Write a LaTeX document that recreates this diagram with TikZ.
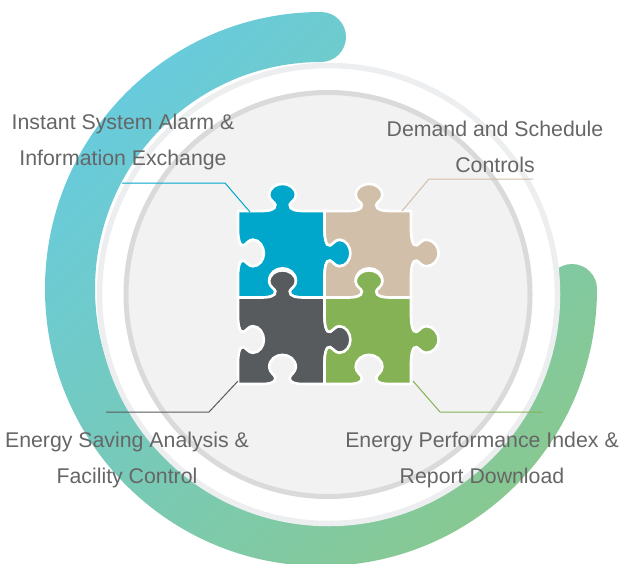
\documentclass[tikz,border=0pt]{standalone}
\usepackage{fontspec}
\setmainfont{Liberation Sans}
\definecolor{bandA}{HTML}{68CBDC}
\definecolor{bandB}{HTML}{74CBBE}
\definecolor{bandC}{HTML}{88C992}
\definecolor{ringout}{HTML}{ECEEF0}
\definecolor{ringin}{HTML}{DADADA}
\definecolor{disc}{HTML}{F2F2F2}
\definecolor{pblue}{HTML}{00A7CB}
\definecolor{ptan}{HTML}{D2BFAA}
\definecolor{pgray}{HTML}{575B5D}
\definecolor{pgreen}{HTML}{85B254}
\definecolor{txt}{HTML}{666666}
\newcommand{\puzzle}{%
 (0,0) -- (22,0)
 .. controls (30,0) and (37,-1) .. (36.5,-6)
 .. controls (36,-9) and (30.5,-10.5) .. (30.5,-15.5)
 .. controls (30.5,-22.5) and (37,-26.5) .. (43.5,-26.5)
 .. controls (50,-26.5) and (56.5,-22.5) .. (56.5,-15.5)
 .. controls (56.5,-10.5) and (51,-9) .. (50.5,-6)
 .. controls (50,-1) and (57,0) .. (65,0)
 -- (84.5,0) -- (84.5,18)
 .. controls (84.5,26) and (86,35) .. (90,33.5)
 .. controls (93,32) and (95,28) .. (99.5,28)
 .. controls (106.5,28) and (111.5,35) .. (111.5,41.3)
 .. controls (111.5,47.5) and (106.5,54) .. (99.5,54)
 .. controls (95,54) and (93,50) .. (90,48.5)
 .. controls (86,47) and (84.5,56) .. (84.5,64)
 -- (84.5,84.5) -- (65,84.5)
 .. controls (57,84.5) and (50,83.5) .. (50.5,78.5)
 .. controls (51,75.5) and (56.5,73) .. (56.5,68)
 .. controls (56.5,60.5) and (50,56) .. (43.5,56)
 .. controls (37,56) and (30.5,60.5) .. (30.5,68)
 .. controls (30.5,73) and (36,75.5) .. (36.5,78.5)
 .. controls (37,83.5) and (30,84.5) .. (22,84.5)
 -- (0,84.5) -- (0,64)
 .. controls (0,56) and (1.5,47) .. (5.5,48.5)
 .. controls (8.5,50) and (10.5,54) .. (14.5,54)
 .. controls (21,54) and (25.3,47.5) .. (25.3,41.3)
 .. controls (25.3,35) and (21,28) .. (14.5,28)
 .. controls (10.5,28) and (8.5,32) .. (5.5,33.5)
 .. controls (1.5,35) and (0,26) .. (0,18)
 -- cycle}
\tikzset{
 x=1pt,y=-1pt,
 piece/.style={draw=white,line width=2.6pt,line join=miter},
 lead/.style={line width=1pt},
 label/.style={text=txt,font=\fontsize{21.3}{21.3}\selectfont,inner sep=0pt,anchor=base}
}
\begin{document}
\begin{tikzpicture}
\useasboundingbox (0,0) rectangle (620,563);
\clip (0,0) rectangle (620,563);
\path[top color=bandA,middle color=bandB,bottom color=bandC,shading=axis,shading angle=45]
  (321,12) arc[start angle=90,end angle=360,x radius=276pt,y radius=277pt]
  arc[start angle=0,end angle=180,radius=25pt]
  arc[start angle=360,end angle=90,x radius=226pt,y radius=227pt]
  arc[start angle=270,end angle=450,radius=25pt] -- cycle;
\node[circle,draw=ringout,fill=white,line width=5.5pt,minimum size=458pt,inner sep=0pt] (outerring) at (328.5,294.5) {};
\node[circle,draw=ringin,fill=disc,line width=5pt,minimum size=404pt,inner sep=0pt] (innerring) at (328,294.5) {};
\coordinate (pa) at (238,211);
\coordinate (pb) at (324.5,211);
\coordinate (pc) at (238,297.5);
\coordinate (pd) at (324.5,297.5);
\begin{scope}[shift={(pa)},scale=1.0237] \path[piece,fill=pblue] \puzzle; \end{scope}
\begin{scope}[shift={(pb)},scale=1.0237] \path[piece,fill=ptan] \puzzle; \end{scope}
\begin{scope}[shift={(pc)},scale=1.0237] \path[piece,fill=pgray] \puzzle; \end{scope}
\begin{scope}[shift={(pd)},scale=1.0237] \path[piece,fill=pgreen] \puzzle; \end{scope}
\coordinate (ca) at (250,212);
\coordinate (cb) at (402,211);
\coordinate (cc) at (238,381);
\coordinate (cd) at (413,381);
\coordinate (ea) at (122,183);
\coordinate (eb) at (533,179);
\coordinate (ec) at (106,412);
\coordinate (ed) at (543,412);
\draw[lead,draw=pblue] (ea) -- (225,183) -- (ca);
\draw[lead,draw=ptan] (eb) -- (429,179) -- (cb);
\draw[lead,draw=pgray] (ec) -- (209,412) -- (cc);
\draw[lead,draw=pgreen] (ed) -- (440,412) -- (cd);
\node[label] (la1) at (123,129) {Instant System Alarm \&};
\node[label] (la2) at (123,165) {Information Exchange};
\node[label] (lb1) at (495,136) {Demand and Schedule};
\node[label] (lb2) at (495,172) {Controls};
\node[label] (lc1) at (127,447) {Energy Saving Analysis \&};
\node[label] (lc2) at (127,483) {Facility Control};
\node[label] (ld1) at (482,447) {Energy Performance Index \&};
\node[label] (ld2) at (482,483) {Report Download};
\end{tikzpicture}
\end{document}
